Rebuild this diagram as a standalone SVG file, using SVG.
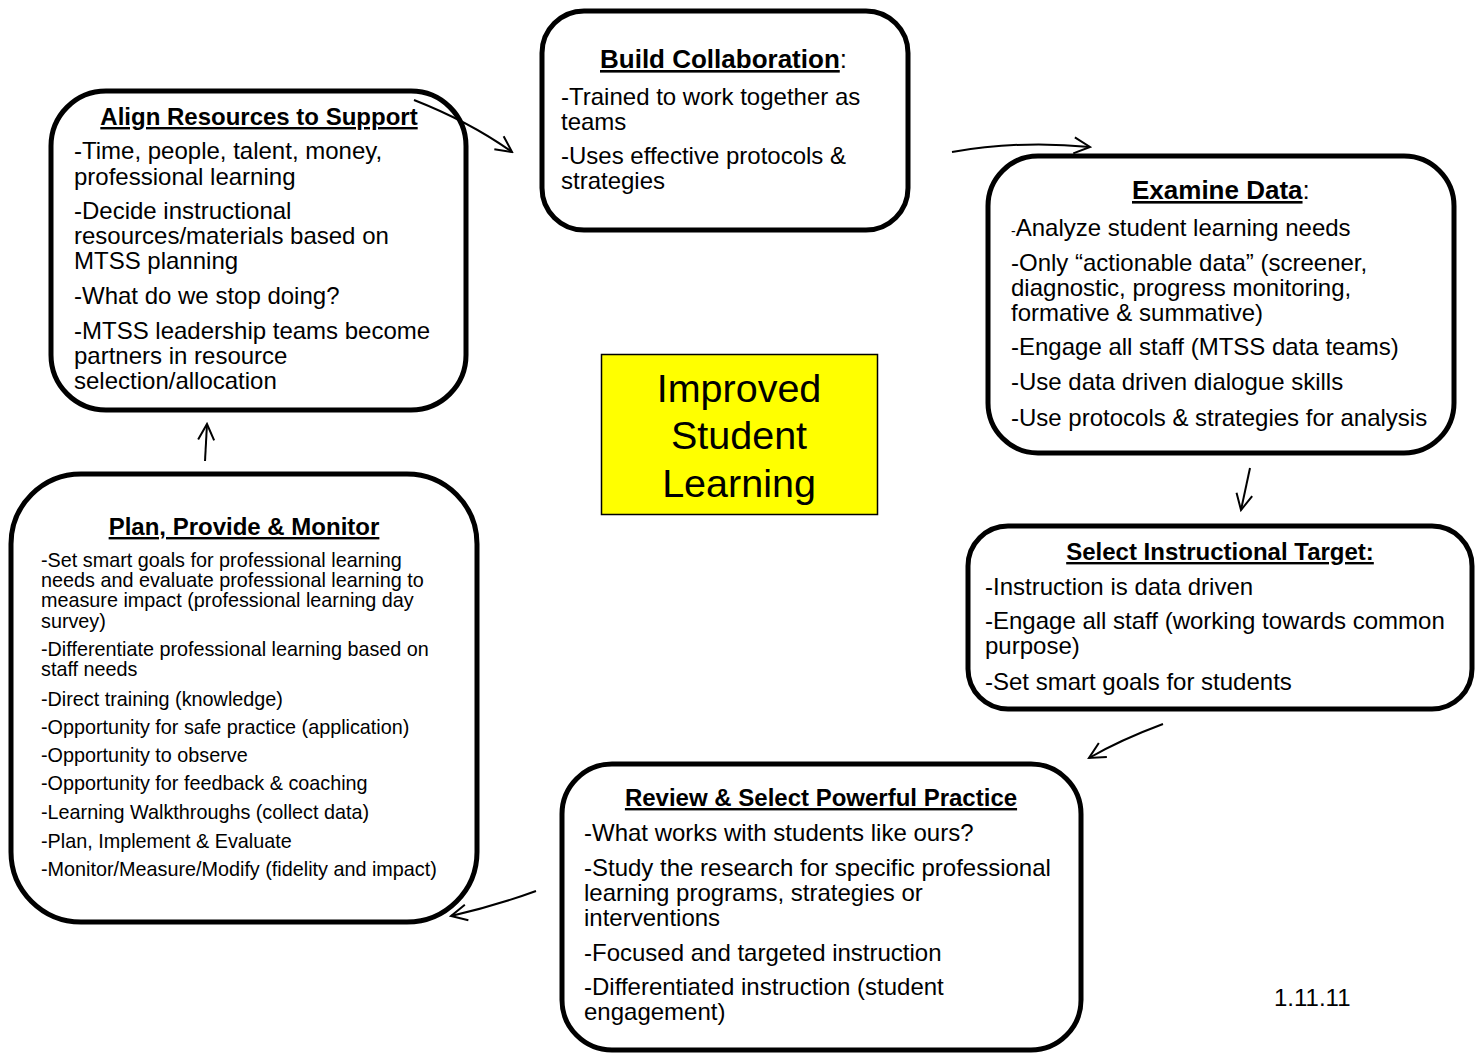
<svg xmlns="http://www.w3.org/2000/svg" width="1476" height="1059" viewBox="0 0 1476 1059">
  <defs>
    <style>
      .box { fill: #ffffff; stroke: #000000; stroke-width: 5; }
      .t { font-family: "Liberation Sans", Arial, sans-serif; font-size: 24px; fill: #000; }
      .s { font-family: "Liberation Sans", Arial, sans-serif; font-size: 19.8px; fill: #000; }
      .h { font-family: "Liberation Sans", Arial, sans-serif; font-size: 24px; font-weight: bold; fill: #000; text-decoration: underline; }
      .hl { font-family: "Liberation Sans", Arial, sans-serif; font-size: 26px; fill: #000; }
      .u { font-weight: bold; text-decoration: underline; }
      .big { font-family: "Liberation Sans", Arial, sans-serif; font-size: 39.5px; fill: #000; text-anchor: middle; }
      .conn { fill: none; stroke: #000; stroke-width: 2; marker-end: url(#head); }
    </style>
    <marker id="head" viewBox="0 0 20 20" refX="18" refY="10" markerWidth="20" markerHeight="20" markerUnits="userSpaceOnUse" orient="auto">
      <path d="M2,2 L18,10 L2,18" fill="none" stroke="#000" stroke-width="2"/>
    </marker>
  </defs>
  <rect width="1476" height="1059" fill="#ffffff"/>

  <!-- Centre -->
  <g id="improved-learning">
    <rect x="601.5" y="354.5" width="276" height="160" fill="#ffff00" stroke="#000" stroke-width="1.5"/>
    <text class="big" x="739" y="402">Improved</text>
    <text class="big" x="739" y="449">Student</text>
    <text class="big" x="739" y="497">Learning</text>
  </g>

  <!-- Align Resources to Support -->
  <g id="align-resources">
    <rect class="box" x="51" y="91" width="415" height="319" rx="55" ry="55"/>
    <text class="h" x="259" y="125" text-anchor="middle">Align Resources to Support</text>
    <text class="t" x="74" y="159">-Time, people, talent, money,</text>
    <text class="t" x="74" y="185">professional learning</text>
    <text class="t" x="74" y="219">-Decide instructional</text>
    <text class="t" x="74" y="244">resources/materials based on</text>
    <text class="t" x="74" y="269">MTSS planning</text>
    <text class="t" x="74" y="304">-What do we stop doing?</text>
    <text class="t" x="74" y="339">-MTSS leadership teams become</text>
    <text class="t" x="74" y="364">partners in resource</text>
    <text class="t" x="74" y="389">selection/allocation</text>
  </g>

  <!-- Build Collaboration -->
  <g id="build-collaboration">
    <rect class="box" x="542" y="11" width="366" height="219" rx="42" ry="42"/>
    <text class="hl" x="600" y="68"><tspan class="u">Build Collaboration</tspan>:</text>
    <text class="t" x="561" y="105">-Trained to work together as</text>
    <text class="t" x="561" y="130">teams</text>
    <text class="t" x="561" y="164">-Uses effective protocols &amp;</text>
    <text class="t" x="561" y="189">strategies</text>
  </g>

  <!-- Examine Data -->
  <g id="examine-data">
    <rect class="box" x="988" y="156" width="466" height="297" rx="50" ry="50"/>
    <text class="hl" x="1132" y="199"><tspan class="u">Examine Data</tspan>:</text>
    <text class="t" x="1011" y="236"><tspan font-size="14">-</tspan>Analyze student learning needs</text>
    <text class="t" x="1011" y="271">-Only “actionable data” (screener,</text>
    <text class="t" x="1011" y="296">diagnostic, progress monitoring,</text>
    <text class="t" x="1011" y="321">formative &amp; summative)</text>
    <text class="t" x="1011" y="355">-Engage all staff (MTSS data teams)</text>
    <text class="t" x="1011" y="390">-Use data driven dialogue skills</text>
    <text class="t" x="1011" y="426">-Use protocols &amp; strategies for analysis</text>
  </g>

  <!-- Select Instructional Target -->
  <g id="select-target">
    <rect class="box" x="968" y="526" width="504" height="183" rx="40" ry="40"/>
    <text class="h" x="1220" y="560" text-anchor="middle">Select Instructional Target:</text>
    <text class="t" x="985" y="595">-Instruction is data driven</text>
    <text class="t" x="985" y="629">-Engage all staff (working towards common</text>
    <text class="t" x="985" y="654">purpose)</text>
    <text class="t" x="985" y="690">-Set smart goals for students</text>
  </g>

  <!-- Review & Select Powerful Practice -->
  <g id="review-practice">
    <rect class="box" x="562" y="764" width="519" height="286" rx="50" ry="50"/>
    <text class="h" x="821" y="806" text-anchor="middle">Review &amp; Select Powerful Practice</text>
    <text class="t" x="584" y="841">-What works with students like ours?</text>
    <text class="t" x="584" y="876">-Study the research for specific professional</text>
    <text class="t" x="584" y="901">learning programs, strategies or</text>
    <text class="t" x="584" y="926">interventions</text>
    <text class="t" x="584" y="961">-Focused and targeted instruction</text>
    <text class="t" x="584" y="995">-Differentiated instruction (student</text>
    <text class="t" x="584" y="1020">engagement)</text>
  </g>

  <!-- Plan, Provide & Monitor -->
  <g id="plan-provide-monitor">
    <rect class="box" x="11" y="474" width="466" height="448" rx="70" ry="70"/>
    <text class="h" x="244" y="535" text-anchor="middle">Plan, Provide &amp; Monitor</text>
    <text class="s" x="41" y="567">-Set smart goals for professional learning</text>
    <text class="s" x="41" y="587">needs and evaluate professional learning to</text>
    <text class="s" x="41" y="607">measure impact (professional learning day</text>
    <text class="s" x="41" y="628">survey)</text>
    <text class="s" x="41" y="656">-Differentiate professional learning based on</text>
    <text class="s" x="41" y="676">staff needs</text>
    <text class="s" x="41" y="706">-Direct training (knowledge)</text>
    <text class="s" x="41" y="734">-Opportunity for safe practice (application)</text>
    <text class="s" x="41" y="762">-Opportunity to observe</text>
    <text class="s" x="41" y="790">-Opportunity for feedback &amp; coaching</text>
    <text class="s" x="41" y="819">-Learning Walkthroughs (collect data)</text>
    <text class="s" x="41" y="848">-Plan, Implement &amp; Evaluate</text>
    <text class="s" x="41" y="876">-Monitor/Measure/Modify (fidelity and impact)</text>
  </g>

  <text class="t" x="1274" y="1006">1.11.11</text>

  <!-- Cycle connectors -->
  <g id="connectors">
    <path class="conn" d="M414,100 Q470,122 512,152"/>
    <path class="conn" d="M952,152 Q1020,140 1090,147"/>
    <path class="conn" d="M1250,468 L1241,510"/>
    <path class="conn" d="M1163,724 Q1120,740 1089,758"/>
    <path class="conn" d="M536,891 Q495,906 451,916"/>
    <path class="conn" d="M205,461 L207,424"/>
  </g>
</svg>
